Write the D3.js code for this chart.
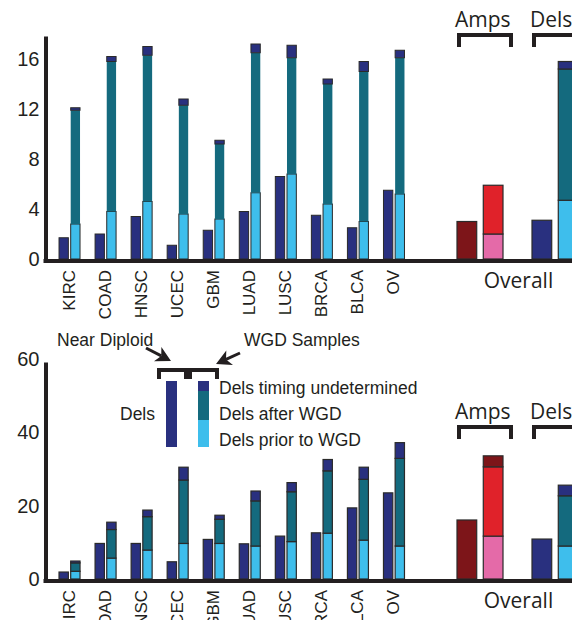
<!DOCTYPE html>
<html><head><meta charset="utf-8">
<script src="https://cdn.jsdelivr.net/npm/d3@7/dist/d3.min.js"></script>
<style>
html,body{margin:0;padding:0;background:#fff;}
svg{display:block;font-family:"Liberation Sans",Arial,Helvetica,sans-serif;}
</style></head>
<body>
<svg id="chart" width="572" height="620"></svg>
<script>
// ---------- DATA ----------
const categories = ["KIRC","COAD","HNSC","UCEC","GBM","LUAD","LUSC","BRCA","BLCA","OV"];

// Top panel (per-sample counts)
const topNearDiploid = [1.7, 2.0, 3.4, 1.1, 2.3, 3.8, 6.6, 3.5, 2.5, 5.5];
const topPrior       = [2.8, 3.8, 4.6, 3.6, 3.2, 5.3, 6.8, 4.4, 3.0, 5.2];
const topAfter       = [9.1, 12.0, 11.7, 8.7, 6.0, 11.2, 9.3, 9.6, 12.0, 10.9];
const topUndet       = [0.2, 0.4, 0.7, 0.5, 0.3, 0.7, 1.0, 0.4, 0.8, 0.6];
const topTicks = [0, 4, 8, 12, 16];

// Bottom panel
const botNearDiploid = [1.9, 9.7, 9.7, 4.7, 10.8, 9.6, 11.7, 12.6, 19.4, 23.5];
const botPrior       = [2.1, 5.7, 7.9, 9.7, 9.7, 9.0, 10.2, 12.5, 10.6, 9.0];
const botAfter       = [2.3, 7.8, 9.1, 17.3, 6.6, 12.3, 13.6, 17.0, 16.6, 23.9];
const botUndet       = [0.5, 2.0, 1.8, 3.5, 1.1, 2.7, 2.5, 3.1, 3.3, 4.3];
const botTicks = [0, 20, 40, 60];

// Overall groups
const overallGroups = ["Amps", "Dels"];
const topOverallND    = [3.0, 3.1];
const topOverallPrior = [2.0, 4.7];
const topOverallAfter = [3.9, 10.5];
const topOverallUndet = [0.0, 0.6];
const botOverallND    = [16.1, 10.9];
const botOverallPrior = [11.7, 9.0];
const botOverallAfter = [18.9, 13.7];
const botOverallUndet = [3.0, 2.9];

const legendLabels = ["Dels timing undetermined", "Dels after WGD", "Dels prior to WGD"];

// ---------- STYLE ----------
const C = {
  navy: "#29307f", teal: "#146a7e", light: "#3ebeec",
  dred: "#7d1519", red: "#e0222a", pink: "#e46aa8",
  ink: "#231f20"
};
const groupColors = {
  Dels: {nd: C.navy, prior: C.light, after: C.teal, undet: C.navy},
  Amps: {nd: C.dred, prior: C.pink, after: C.red, undet: C.dred}
};

const svg = d3.select("#chart");
const keys = ["prior", "after", "undet"];

const x = d3.scaleBand().domain(categories).range([51.5, 412]).padding(0);
const inner = d3.scaleBand().domain(["nd", "wgd"]).range([-10.5, 10.5]).paddingInner(0.2);
const ox = d3.scaleOrdinal().domain(overallGroups).range([480, 555]);
const oinner = d3.scaleBand().domain(["nd", "wgd"]).range([-23, 23]).paddingInner(0.25);

function panel(cfg) {
  const g = svg.append("g");
  const y = d3.scaleLinear().domain([0, cfg.yMax]).range([cfg.y0, cfg.yTop]);

  const recs = categories.map((c, i) => ({
    cat: c, nd: cfg.nd[i], prior: cfg.prior[i], after: cfg.after[i], undet: cfg.undet[i]
  }));
  const stacked = d3.stack().keys(keys)(recs);

  const strokeFor = k => (cfg.top && k === "after") ? "none" : "#2a2a2a";

  g.selectAll("rect.nd").data(recs).join("rect")
    .attr("x", d => x(d.cat) + x.bandwidth() / 2 + inner("nd"))
    .attr("width", inner.bandwidth())
    .attr("y", d => y(d.nd))
    .attr("height", d => y(0) - y(d.nd))
    .attr("fill", C.navy).attr("stroke", "#2a2a2a").attr("stroke-width", cfg.sw);

  stacked.forEach(layer => {
    const k = layer.key;
    g.selectAll("rect.s" + k).data(layer).join("rect")
      .attr("x", d => x(d.data.cat) + x.bandwidth() / 2 + inner("wgd"))
      .attr("width", inner.bandwidth())
      .attr("y", d => y(d[1]))
      .attr("height", d => y(d[0]) - y(d[1]))
      .attr("fill", groupColors.Dels[k])
      .attr("stroke", strokeFor(k)).attr("stroke-width", cfg.sw);
  });

  const orecs = overallGroups.map((gr, i) => ({
    grp: gr, nd: cfg.ond[i], prior: cfg.oprior[i], after: cfg.oafter[i], undet: cfg.oundet[i]
  }));
  const ostacked = d3.stack().keys(keys)(orecs);
  g.selectAll("rect.ond").data(orecs).join("rect")
    .attr("x", d => ox(d.grp) + oinner("nd"))
    .attr("width", oinner.bandwidth())
    .attr("y", d => y(d.nd))
    .attr("height", d => y(0) - y(d.nd))
    .attr("fill", d => groupColors[d.grp].nd)
    .attr("stroke", "#2a2a2a").attr("stroke-width", 1.2);
  ostacked.forEach(layer => {
    const k = layer.key;
    g.selectAll("rect.o" + k).data(layer.filter(d => d[1] - d[0] > 0)).join("rect")
      .attr("x", d => ox(d.data.grp) + oinner("wgd"))
      .attr("width", oinner.bandwidth())
      .attr("y", d => y(d[1]))
      .attr("height", d => y(d[0]) - y(d[1]))
      .attr("fill", d => groupColors[d.data.grp][k])
      .attr("stroke", "#2a2a2a")
      .attr("stroke-width", 1.2);
  });

  const ax = g.append("g").attr("transform", `translate(45.5,0)`)
    .call(d3.axisLeft(y).tickValues(cfg.ticks).tickSize(0).tickSizeOuter(0).tickPadding(6));
  ax.select(".domain").attr("stroke", C.ink).attr("stroke-width", 4);
  ax.selectAll("text").attr("font-size", 20).attr("fill", C.ink)
    .attr("font-family", "Liberation Sans, Arial, sans-serif");

  g.append("line").attr("x1", 43.5).attr("x2", 572)
    .attr("y1", y(0) + 2).attr("y2", y(0) + 2)
    .attr("stroke", C.ink).attr("stroke-width", 4);

  g.selectAll("text.cat").data(categories).join("text")
    .attr("transform", d => `translate(${x(d) + x.bandwidth() / 2 + 5},${y(0) + 11}) rotate(-90)`)
    .attr("text-anchor", "end")
    .attr("font-size", 17).attr("fill", C.ink)
    .text(d => d);

  g.append("text").attr("x", 518.5).attr("y", y(0) + 29)
    .attr("text-anchor", "middle").attr("font-size", 21).attr("fill", C.ink)
    .attr("font-family", "Open Sans, Liberation Sans, sans-serif")
    .text("Overall");

  overallGroups.forEach(gr => {
    const cx = ox(gr);
    const left = cx - 21;
    g.append("path")
      .attr("d", `M${left},${cfg.bracketY + 12}V${cfg.bracketY}H${cx + 31}V${cfg.bracketY + 12}`)
      .attr("fill", "none").attr("stroke", C.ink).attr("stroke-width", 4);
    g.append("text").attr("x", left - 4).attr("y", cfg.bracketY - 8)
      .attr("font-size", 21).attr("fill", C.ink)
      .attr("font-family", "Open Sans, Liberation Sans, sans-serif")
      .text(gr);
  });
  return y;
}

panel({
  top: true, y0: 259, yTop: 36, yMax: 17.84, ticks: topTicks, sw: 1,
  nd: topNearDiploid, prior: topPrior, after: topAfter, undet: topUndet,
  ond: topOverallND, oprior: topOverallPrior, oafter: topOverallAfter, oundet: topOverallUndet,
  bracketY: 35
});
panel({
  top: false, y0: 579, yTop: 362, yMax: 59.2, ticks: botTicks, sw: 1.2,
  nd: botNearDiploid, prior: botPrior, after: botAfter, undet: botUndet,
  ond: botOverallND, oprior: botOverallPrior, oafter: botOverallAfter, oundet: botOverallUndet,
  bracketY: 427
});

// ---------- LEGEND ----------
const L = svg.append("g");
L.append("text").attr("x", 57).attr("y", 346).attr("font-size", 17.5).attr("fill", C.ink).text("Near Diploid");
L.append("text").attr("x", 244).attr("y", 346).attr("font-size", 17.5).attr("fill", C.ink).text("WGD Samples");

function arrow(x1, y1, x2, y2) {
  const a = Math.atan2(y2 - y1, x2 - x1), len = 15, w = 8;
  const bx = x2 - len * Math.cos(a), by = y2 - len * Math.sin(a);
  L.append("line").attr("x1", x1).attr("y1", y1).attr("x2", bx + 4 * Math.cos(a)).attr("y2", by + 4 * Math.sin(a))
    .attr("stroke", C.ink).attr("stroke-width", 3);
  L.append("path").attr("d",
    `M${x2},${y2}L${bx + w * Math.sin(a)},${by - w * Math.cos(a)}L${bx + 4 * Math.cos(a)},${by + 4 * Math.sin(a)}L${bx - w * Math.sin(a)},${by + w * Math.cos(a)}Z`)
    .attr("fill", C.ink);
}
arrow(146, 348, 171, 361);
arrow(240, 353, 216, 364);

L.append("path").attr("d", "M159,379V370H186V379").attr("fill", "none").attr("stroke", C.ink).attr("stroke-width", 4);
L.append("path").attr("d", "M190,379V370H217V379").attr("fill", "none").attr("stroke", C.ink).attr("stroke-width", 4);

L.append("rect").attr("x", 166).attr("y", 381).attr("width", 11).attr("height", 66).attr("fill", C.navy);
const legCols = [C.navy, C.teal, C.light];
const legY = [381, 391, 420, 447];
legCols.forEach((c, i) => {
  L.append("rect").attr("x", 198).attr("y", legY[i]).attr("width", 11)
    .attr("height", legY[i + 1] - legY[i]).attr("fill", c);
});
L.append("text").attr("x", 120).attr("y", 420).attr("font-size", 17.5).attr("fill", C.ink).text("Dels");
legendLabels.forEach((t, i) => {
  L.append("text").attr("x", 219).attr("y", 394 + i * 26).attr("font-size", 17.5).attr("fill", C.ink).text(t);
});
</script>
</body></html>
